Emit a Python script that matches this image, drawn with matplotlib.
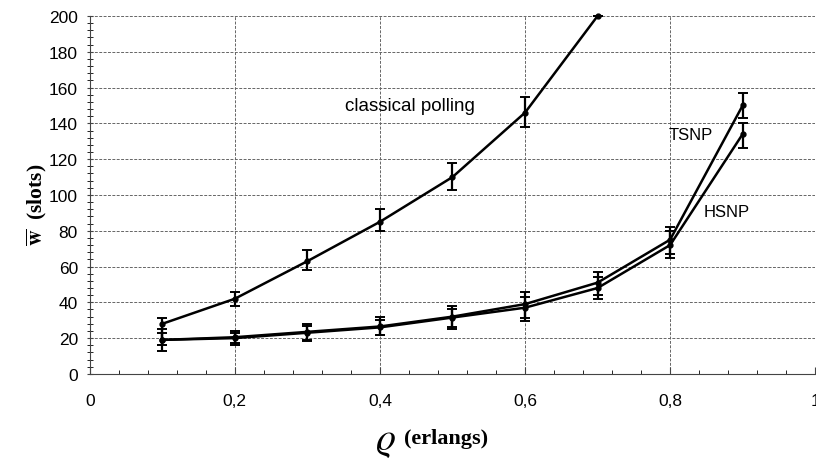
import matplotlib
matplotlib.use("Agg")
import matplotlib.pyplot as plt
from matplotlib.ticker import MultipleLocator, FuncFormatter

plt.rcParams['font.family'] = ['Liberation Sans', 'DejaVu Sans']
plt.rcParams['mathtext.fontset'] = 'stix'

rho = [0.1, 0.2, 0.3, 0.4, 0.5, 0.6, 0.7, 0.8, 0.9]
rho_cp = [0.1, 0.2, 0.3, 0.4, 0.5, 0.6, 0.7]
classical = [28, 42, 63, 85, 110, 146, 200]
classical_lo = [13, 38, 58, 80, 103, 138, 200]
classical_hi = [31, 46, 69, 92, 118, 155, 200]
tsnp = [19, 20.5, 23.5, 26.5, 32, 39, 51, 75, 150]
tsnp_lo = [16, 17, 19, 22, 26, 31, 44, 67, 143]
tsnp_hi = [25, 24, 28, 32, 38, 46, 57, 82, 157]
hsnp = [19, 20, 23, 26, 31.5, 37, 48, 72, 134]
hsnp_lo = [16, 16, 18.5, 22, 25, 29.5, 42, 65, 126]
hsnp_hi = [23, 23, 27, 30, 36, 43, 54, 80, 140]

fig = plt.figure(figsize=(8.16, 4.6), dpi=100)
ax = fig.add_axes([0.110, 0.185, 0.889, 0.778])

def draw(x, y, lo, hi):
    yerr = [[yy - l for yy, l in zip(y, lo)], [h - yy for yy, h in zip(y, hi)]]
    ax.errorbar(x, y, yerr=yerr, color='black', lw=1.8, marker='o', ms=3.5,
                elinewidth=1.6, capsize=3.5, capthick=1.4, clip_on=False, zorder=3)

draw(rho_cp, classical, classical_lo, classical_hi)
draw(rho, tsnp, tsnp_lo, tsnp_hi)
draw(rho, hsnp, hsnp_lo, hsnp_hi)

ax.set_xlim(0, 1)
ax.set_ylim(0, 200)
ax.xaxis.set_major_locator(MultipleLocator(0.2))
ax.xaxis.set_minor_locator(MultipleLocator(0.04))
ax.yaxis.set_major_locator(MultipleLocator(20))
ax.yaxis.set_minor_locator(MultipleLocator(4))
ax.xaxis.set_major_formatter(FuncFormatter(lambda v, p: ('%g' % round(v, 2)).replace('.', ',')))
ax.grid(True, which='major', color='#666666', lw=0.7, ls=(0, (3, 1.5)))
ax.set_axisbelow(True)
for s in ['top', 'right']:
    ax.spines[s].set_visible(False)
ax.spines['left'].set_color('#444444')
ax.spines['bottom'].set_color('#444444')
ax.tick_params(axis='both', which='major', labelsize=12.5, length=5, color='#444444')
ax.tick_params(axis='x', which='both', direction='in', pad=14)
ax.tick_params(axis='x', which='minor', length=3)
ax.tick_params(axis='y', which='both', direction='inout', pad=6)
ax.tick_params(axis='y', which='minor', length=4)

ax.text(0.352, 150, 'classical polling', fontsize=13.5, ha='left', va='center')
ax.text(0.798, 134, 'TSNP', fontsize=12, ha='left', va='center')
ax.text(0.846, 91, 'HSNP', fontsize=12, ha='left', va='center')

fig.text(0.045, 0.555, r'$\overline{\mathbf{w}}$  (slots)', rotation=90, ha='center', va='center',
         fontsize=15.5, family='Liberation Serif', fontweight='bold')
fig.text(0.472, 0.04, r'$\varrho$', fontsize=28, ha='center', va='center', family='Liberation Serif')
fig.text(0.547, 0.045, '(erlangs)', fontsize=16, ha='center', va='center',
         family='Liberation Serif', fontweight='bold')

fig.savefig('out.png', dpi=100)
